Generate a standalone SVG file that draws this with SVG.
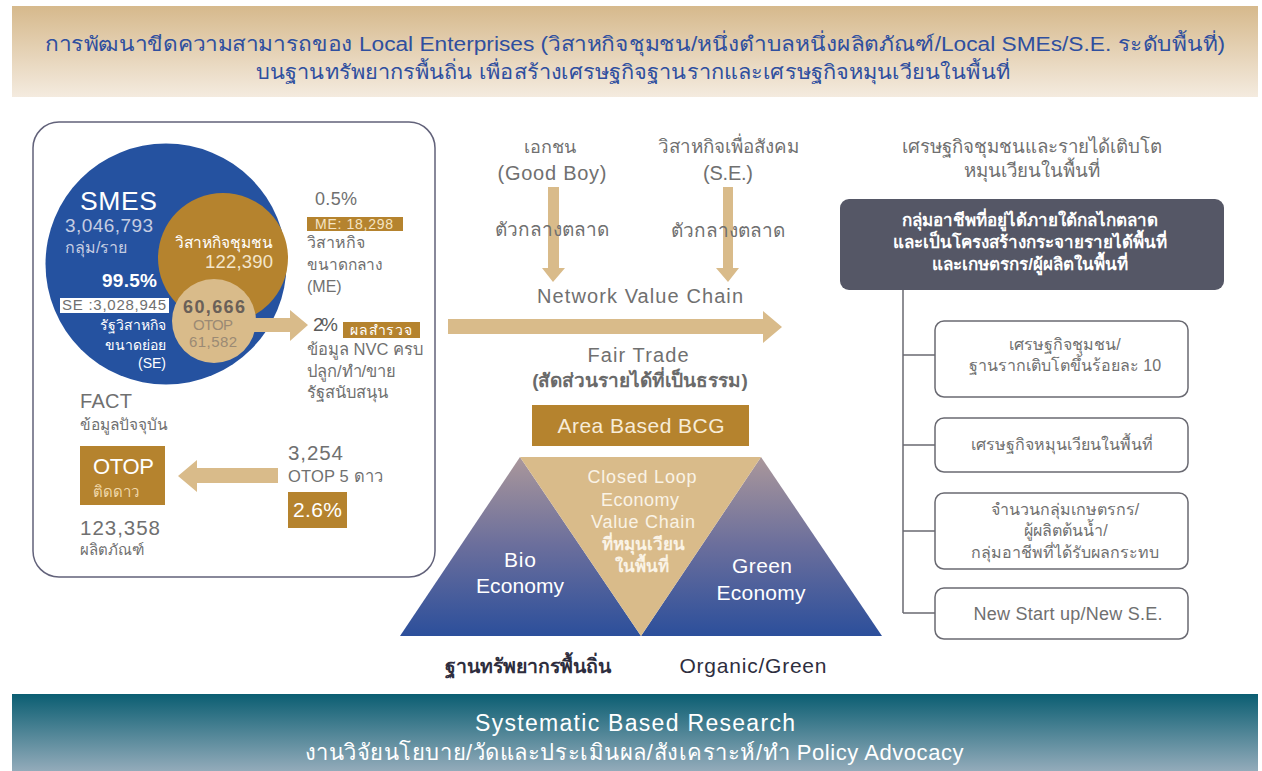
<svg xmlns="http://www.w3.org/2000/svg" width="1262" height="771" viewBox="0 0 1262 771">
<defs>
<linearGradient id="gHead" x1="0" y1="0" x2="0" y2="1"><stop offset="0" stop-color="#d6b98c"/><stop offset="1" stop-color="#f4ebdf"/></linearGradient>
<linearGradient id="gFoot" x1="0" y1="0" x2="0" y2="1"><stop offset="0" stop-color="#0b5e72"/><stop offset="1" stop-color="#93abba"/></linearGradient>
<linearGradient id="gTri" x1="0" y1="457" x2="0" y2="636" gradientUnits="userSpaceOnUse"><stop offset="0" stop-color="#aa979b"/><stop offset="0.5" stop-color="#6a6e9c"/><stop offset="1" stop-color="#2c4f9b"/></linearGradient>
<style>
text{font-family:"Liberation Sans","Noto Sans",sans-serif;}
.g{fill:#707070;}
.w{fill:#ffffff;}
.lb{fill:#c5cde2;}
.mid{text-anchor:middle;}
.end{text-anchor:end;}
.s14{font-size:14px;}.s15{font-size:15px;}.s16{font-size:16px;}.s17{font-size:17px;}.s18{font-size:18px;}.s19{font-size:19px;}.s20{font-size:20px;}.s21{font-size:21px;}
.gold{fill:#b5832e;}
.tan{fill:#d9bb8a;}
.box{fill:#ffffff;stroke:#6a6a72;stroke-width:1.5;}
.b{font-weight:bold;}
</style>
</defs>

<g id="header">
<rect x="12" y="6" width="1246" height="91" fill="url(#gHead)"/>
<text x="635" y="51" class="mid s20" fill="#2f4f9f" textLength="1180" lengthAdjust="spacingAndGlyphs">การพัฒนาขีดความสามารถของ Local Enterprises (วิสาหกิจชุมชน/หนึ่งตำบลหนึ่งผลิตภัณฑ์/Local SMEs/S.E. ระดับพื้นที่)</text>
<text x="633" y="79" class="mid s20" fill="#2f4f9f" textLength="754" lengthAdjust="spacingAndGlyphs">บนฐานทรัพยากรพื้นถิ่น เพื่อสร้างเศรษฐกิจฐานรากและเศรษฐกิจหมุนเวียนในพื้นที่</text>
</g>

<g id="fact-panel">
<rect x="33" y="122" width="402" height="455" rx="26" fill="#ffffff" stroke="#62627a" stroke-width="1.5"/>
</g>

<g id="smes">
<circle cx="166" cy="264" r="120.5" fill="#2552a0"/>
<text x="80" y="210" class="w" font-size="26.5" textLength="77">SMES</text>
<text x="65" y="232" class="lb s19" textLength="88">3,046,793</text>
<text x="65" y="253" class="lb s16">กลุ่ม/ราย</text>
</g>

<g id="community">
<circle cx="223" cy="258" r="65" fill="#b5832e"/>
<text x="273" y="248" class="w end" font-size="15.5">วิสาหกิจชุมชน</text>
<text x="273" y="268" class="end" font-size="18.5" fill="#f3e6cc" textLength="68">122,390</text>
</g>

<g id="smes-se">
<text x="157" y="287" class="w s19 b end" textLength="55">99.5%</text>
<rect x="60" y="298" width="109" height="15" fill="#ffffff"/>
<text x="62" y="310" class="g s15" textLength="104">SE :3,028,945</text>
<text x="166" y="330" class="w s14 end">รัฐวิสาหกิจ</text>
<text x="166" y="350" class="w s14 end">ขนาดย่อย</text>
<text x="166" y="368" class="w s14 end">(SE)</text>
</g>

<g id="otop">
<circle cx="214" cy="321" r="42" fill="#d9bb8a"/>
<text x="214" y="313" class="mid s18 b" fill="#6a6058" textLength="62">60,666</text>
<text x="213" y="330" class="mid s15" fill="#9b8a74" textLength="40">OTOP</text>
<text x="213" y="347" class="mid s15" fill="#9b8a74" textLength="48">61,582</text>
</g>

<g id="connectors">
<polygon class="tan" points="548,187 559,187 559,268 565,268 553,282 542,268 548,268"/>
<polygon class="tan" points="723,187 733,187 733,268 739,268 728,282 716,268 723,268"/>
<polygon class="tan" points="448,319 763,319 763,311 782,327 763,343 763,334 448,334"/>
<polygon class="tan" points="252,318 290,318 290,310 308,325 290,341 290,332 252,332"/>
<polygon class="tan" points="278,468 197,468 197,460 178,476 197,492 197,483 278,483"/>
<path d="M903,290 V613 M903,355 H935 M903,445 H935 M903,531 H935 M903,613 H935" fill="none" stroke="#6a6a72" stroke-width="1.5"/>
</g>

<g id="me">
<text x="315" y="205" class="g s18" textLength="42">0.5%</text>
<rect x="307" y="217" width="96" height="14" class="gold"/>
<text x="315" y="229" font-size="14" fill="#f4e4c4" textLength="78">ME: 18,298</text>
<text x="307" y="248" class="g s16">วิสาหกิจ</text>
<text x="307" y="270" class="g" font-size="15.5">ขนาดกลาง</text>
<text x="307" y="292" class="g s16">(ME)</text>
</g>

<g id="survey">
<text x="313" y="331" class="s19" fill="#5a5a5a" textLength="25">2%</text>
<rect x="343" y="322" width="77" height="16" class="gold"/>
<text x="350" y="335" class="w" font-size="14" textLength="62">ผลสำรวจ</text>
<text x="307" y="355" class="g" font-size="16.5">ข้อมูล NVC ครบ</text>
<text x="307" y="377" class="g" font-size="16.5">ปลูก/ทำ/ขาย</text>
<text x="307" y="398" class="g" font-size="16.5">รัฐสนับสนุน</text>
</g>

<g id="fact">
<text x="80" y="408" class="g s20" textLength="52">FACT</text>
<text x="80" y="430" class="g" font-size="15.5">ข้อมูลปัจจุบัน</text>
<rect x="80" y="446" width="85" height="59" class="gold"/>
<text x="93" y="474" class="w" font-size="22" textLength="61">OTOP</text>
<text x="93" y="497" class="s15" fill="#f0d8aa">ติดดาว</text>
<text x="80" y="535" class="g" font-size="20.5" textLength="80">123,358</text>
<text x="80" y="555" class="g s15">ผลิตภัณฑ์</text>
</g>

<g id="star5">
<text x="288" y="460" class="g" font-size="20.5" fill="#5a5a5a" textLength="55">3,254</text>
<text x="288" y="482" class="g" font-size="16.5" textLength="95">OTOP 5 ดาว</text>
<rect x="288" y="492" width="59" height="36" class="gold"/>
<text x="293" y="517" class="w s21" textLength="49">2.6%</text>
</g>

<g id="actors">
<text x="550" y="153" class="g s18 mid">เอกชน</text>
<text x="552" y="180" class="g s20 mid" textLength="109">(Good Boy)</text>
<text x="728" y="153" class="g mid" font-size="18.8">วิสาหกิจเพื่อสังคม</text>
<text x="728" y="180" class="g s20 mid" textLength="50">(S.E.)</text>
<text x="552" y="236" class="g s19 mid">ตัวกลางตลาด</text>
<text x="728" y="237" class="g s19 mid">ตัวกลางตลาด</text>
<text x="640" y="303" class="g s20 mid" textLength="206">Network Value Chain</text>
<text x="638" y="362" class="g s20 mid" textLength="101">Fair Trade</text>
<text x="640" y="387" class="s19 mid b" fill="#6a6a6a">(สัดส่วนรายได้ที่เป็นธรรม)</text>
</g>

<g id="bcg">
<rect x="532" y="405" width="217" height="41" class="gold"/>
<text x="641" y="433" class="mid s21" fill="#f7ecd8" textLength="167">Area Based BCG</text>
<polygon points="400,636 520,457 641,636" fill="url(#gTri)"/>
<polygon points="641,636 761,457 882,636" fill="url(#gTri)"/>
<polygon points="520,457 761,457 641,636" fill="#d9bb8a"/>
<text x="520" y="567" class="w s21 mid" textLength="32">Bio</text>
<text x="520" y="593" class="w s21 mid" textLength="88">Economy</text>
<text x="762" y="573" class="w s21 mid" textLength="60">Green</text>
<text x="761" y="600" class="w s21 mid" textLength="89">Economy</text>
<g fill="#faf3e6">
<text x="642" y="483" class="mid s18" textLength="109">Closed Loop</text>
<text x="640" y="506" class="mid s18" textLength="78">Economy</text>
<text x="643" y="528" class="mid s18" textLength="104">Value Chain</text>
<text x="643" y="550" class="mid s17 b">ที่หมุนเวียน</text>
<text x="642" y="572" class="mid s17 b">ในพื้นที่</text>
</g>
<text x="528" y="673" class="mid b" font-size="19.5" fill="#2e2e3e">ฐานทรัพยากรพื้นถิ่น</text>
<text x="753" y="673" class="mid s21" fill="#2e2e3e" textLength="147">Organic/Green</text>
</g>

<g id="outcomes">
<text x="1032" y="153" class="g mid" font-size="18.7">เศรษฐกิจชุมชนและรายได้เติบโต</text>
<text x="1032" y="177" class="g mid" font-size="18.7">หมุนเวียนในพื้นที่</text>
<rect x="840" y="199" width="384" height="91" rx="9" fill="#555766"/>
<text x="1030" y="226" class="w s17 mid b">กลุ่มอาชีพที่อยู่ได้ภายใต้กลไกตลาด</text>
<text x="1030" y="248" class="w s17 mid b">และเป็นโครงสร้างกระจายรายได้พื้นที่</text>
<text x="1030" y="270" class="w s17 mid b">และเกษตรกร/ผู้ผลิตในพื้นที่</text>
</g>

<g id="out1">
<rect x="935" y="321" width="253" height="76" rx="9" class="box"/>
<text x="1065" y="350" class="g s16 mid">เศรษฐกิจชุมชน/</text>
<text x="1065" y="371" class="g s16 mid">ฐานรากเติบโตขึ้นร้อยละ 10</text>
</g>
<g id="out2">
<rect x="935" y="418" width="253" height="54" rx="9" class="box"/>
<text x="1062" y="450" class="g s16 mid">เศรษฐกิจหมุนเวียนในพื้นที่</text>
</g>
<g id="out3">
<rect x="935" y="493" width="253" height="76" rx="9" class="box"/>
<text x="1065" y="515" class="g s16 mid">จำนวนกลุ่มเกษตรกร/</text>
<text x="1066" y="536" class="g s16 mid">ผู้ผลิตต้นน้ำ/</text>
<text x="1065" y="558" class="g s16 mid">กลุ่มอาชีพที่ได้รับผลกระทบ</text>
</g>
<g id="out4">
<rect x="935" y="588" width="253" height="51" rx="9" class="box"/>
<text x="1068" y="620" class="g s18 mid" textLength="189">New Start up/New S.E.</text>
</g>

<g id="footer">
<rect x="12" y="694" width="1246" height="77" fill="url(#gFoot)"/>
<text x="635" y="731" class="w mid" font-size="23" textLength="320">Systematic Based Research</text>
<text x="634" y="760" class="w mid" font-size="22" textLength="659">งานวิจัยนโยบาย/วัดและประเมินผล/สังเคราะห์/ทำ Policy Advocacy</text>
</g>
</svg>
